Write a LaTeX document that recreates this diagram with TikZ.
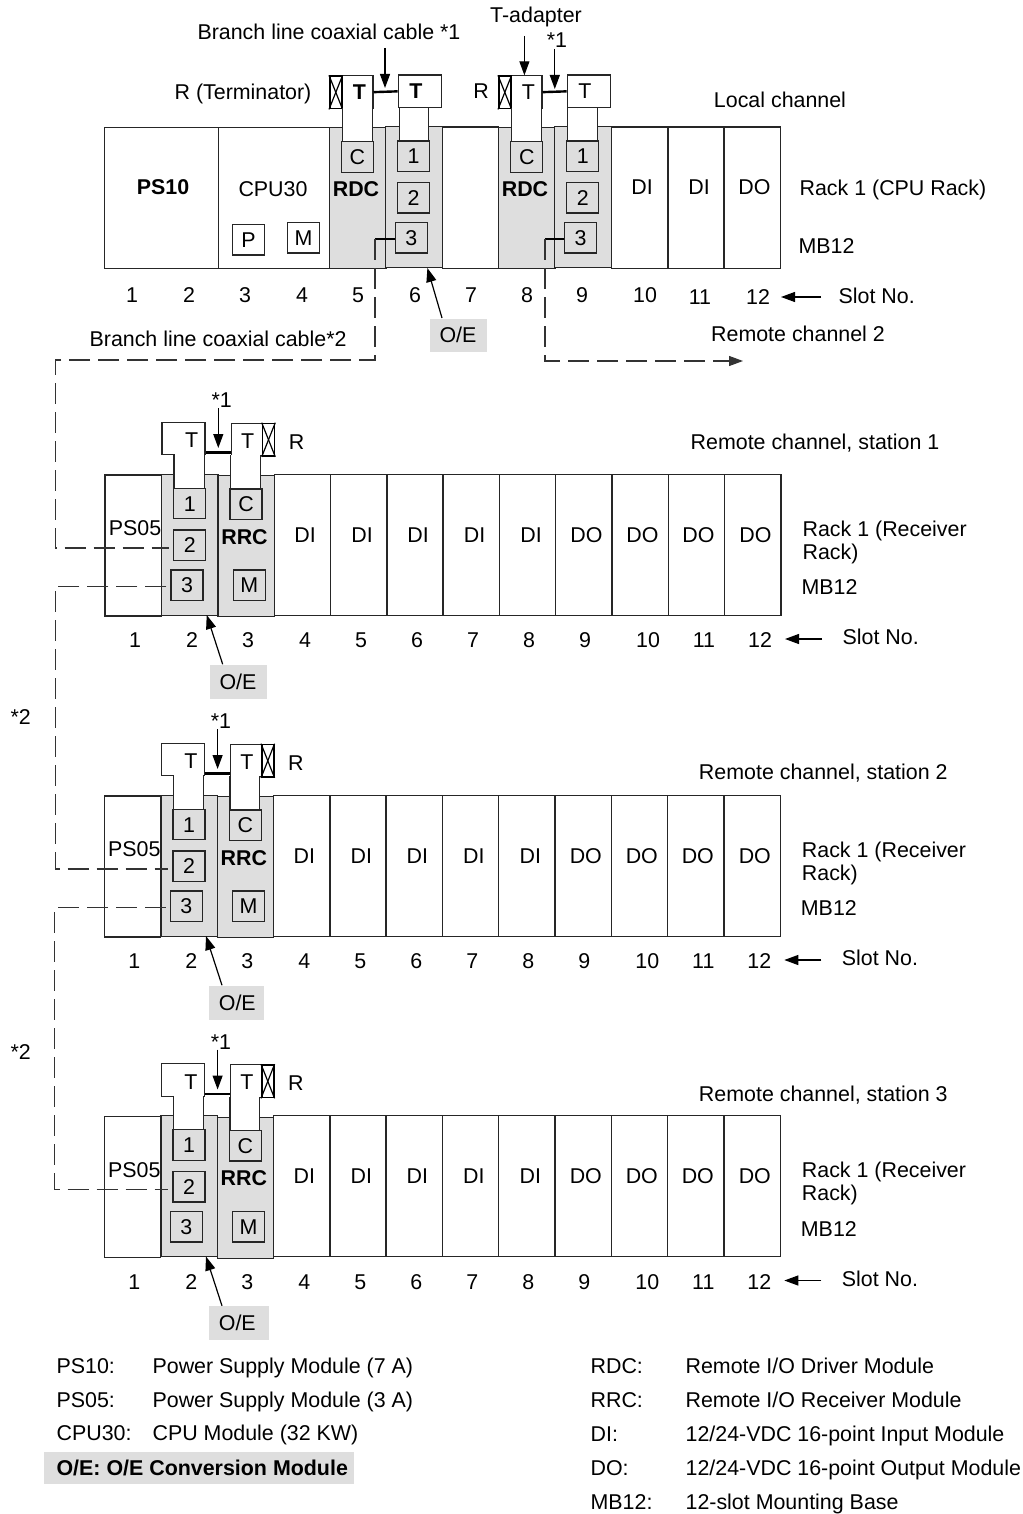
\documentclass[tikz,border=0pt]{standalone}
\usepackage{fontspec}
\setmainfont{Liberation Sans}
\usetikzlibrary{arrows.meta}

\begin{document}
\begin{tikzpicture}[x=1pt, y=-1pt, line width=1.2pt,
    lab/.style={inner sep=0pt, text height=15pt, text depth=0pt, font=\fontsize{21.4}{24}\selectfont},
    labb/.style={lab, font=\fontsize{21.4}{24}\selectfont\bfseries},
    labw/.style={lab, anchor=west},
    modbox/.style={draw=black!85, anchor=north west, inner sep=0pt, minimum width=56.3pt, minimum height=141pt},
    graymod/.style={modbox, fill=black!13},
    sqbox/.style={lab, draw=black!85, minimum width=32pt, minimum height=30.5pt},
    graysq/.style={sqbox, fill=black!13},
    tbox/.style={draw=black!85, fill=white, anchor=north west, inner sep=0pt, minimum height=32.5pt},
    rbox/.style={draw=black, line width=1.6pt, fill=white, anchor=north west, inner sep=0pt, minimum width=12pt, minimum height=32.5pt},
    stem/.style={draw=black!85, fill=white},
    coax/.style={line width=2.4pt},
    cable/.style={draw=black!80, dash pattern=on 21pt off 8pt},
    tip/.style={-{Triangle[length=14pt, width=10pt]}},
    oebox/.style={fill=black!13, anchor=north west, inner sep=0pt, minimum height=34pt}]
  \useasboundingbox (0,0) rectangle (1022,1514);

  \node[lab] (btop) at (329,32) {Branch line coaxial cable *1};
  \node[lab] (tadapter) at (536,15) {T-adapter};
  \node[lab] (startop) at (557,40) {*1};
  \node[lab] (rterm) at (243,92) {R (Terminator)};
  \node[lab] (rtop) at (481,91) {R};
  \node[lab] (localch) at (780,100) {Local channel};

  \node[modbox, minimum width=114.3pt] (ps10) at (103.5,127) {};
  \node[modbox, minimum width=111.2pt] (cpu30) at (217.8,127) {};
  \node[graymod] (rdca) at (329,127) {};
  \node[graymod, minimum width=56.6pt] (oea) at (385,126) {};
  \node[modbox] (slot7) at (441.6,126.5) {};
  \node[graymod] (rdcb) at (498,127) {};
  \node[graymod, minimum width=57pt] (oeb) at (554,126) {};
  \foreach \i/\x in {10/611, 11/667, 12/723.5}
    \node[modbox] (slot\i) at (\x,126.5) {};

  \node[tbox, minimum width=43.3pt] (ta) at (329,75.3) {};
  \node[tbox, minimum width=43.4pt] (tb) at (397.6,74.5) {};
  \node[tbox, minimum width=43.3pt] (tc) at (498,75.3) {};
  \node[tbox, minimum width=43.3pt] (td) at (566.7,74.5) {};
  \node[rbox] (ra) at (329,75.3) {};
  \node[rbox] (rb) at (498,75.3) {};
  \foreach \t in {ra, rb} {
    \draw (\t.north west) -- (\t.south east);
    \draw (\t.south west) -- (\t.north east);
  }
  \draw[stem] (342.5,107.8) -- (342.5,142) -- (372.3,142) -- (372.3,107.8);
  \draw[stem] (399.3,107.8) -- (399.3,142) -- (428.7,142) -- (428.7,107.8);
  \draw[stem] (511.6,107.8) -- (511.6,142) -- (541.3,142) -- (541.3,107.8);
  \draw[stem] (567.7,107.8) -- (567.7,142) -- (597.8,142) -- (597.8,107.8);
  \draw[coax] (ta.east) -- (tb.west);
  \draw[coax] (tc.east) -- (td.west);
  \node[labb] (tta) at (359.5,92) {T};
  \node[labb] (ttb) at (416,91.5) {T};
  \node[lab] (ttc) at (528.5,92) {T};
  \node[lab] (ttd) at (585,91.5) {T};

  \node[graysq] (ca) at (357.3,157) {C};
  \node[graysq] (onea) at (413.5,156.3) {1};
  \node[graysq] (twoa) at (413.5,197.8) {2};
  \node[graysq] (threea) at (411.2,237.8) {3};
  \node[sqbox] (pcpu) at (248.5,239.8) {P};
  \node[sqbox] (mcpu) at (303.5,237.8) {M};
  \node[graysq] (cb) at (526.8,157) {C};
  \node[graysq] (oneb) at (582.7,156.3) {1};
  \node[graysq] (twob) at (582.7,197.8) {2};
  \node[graysq] (threeb) at (580.5,237.8) {3};

  \node[labb] (ps10t) at (163,187) {PS10};
  \node[lab] (cpu30t) at (273,189) {CPU30};
  \node[labb] (rdcat) at (356,189.5) {RDC};
  \node[labb] (rdcbt) at (525,189.5) {RDC};
  \foreach \i/\x/\s in {a/642/DI, b/699/DI, c/754.5/DO}
    \node[lab] (top\i) at (\x,187) {\s};
  \node[labw] (racktop) at (799,188) {Rack 1 (CPU Rack)};
  \node[labw] (mbtop) at (798,246) {MB12};
  \foreach \n/\x/\y in {1/132/295, 2/189/295, 3/245/295, 4/302/295, 5/358/295, 6/415/295, 7/471/295, 8/527/295, 9/582/295, 10/645/295, 11/700/297, 12/758/297}
    \node[lab] (top\n) at (\x,\y) {\n};
  \node[labw] (slotnotop) at (838,296) {Slot No.};
  \node[labw] (bcable) at (89,339) {Branch line coaxial cable*2};
  \node[lab] (remtwo) at (798,334) {Remote channel 2};
  \node[oebox, minimum width=57pt, minimum height=33pt] (oetopb) at (429.4,318) {};
  \node[lab] (oetop) at (458,335) {O/E};

  \coordinate (coaxin) at (385,48);
  \coordinate (coaxend) at (385,88);
  \coordinate (adapterin) at (524.4,36);
  \coordinate (starin) at (554.8,49);
  \coordinate (starend) at (554.8,89);
  \coordinate (slotin) at (821,297);
  \coordinate (slotend) at (781,297);
  \coordinate (oetip) at (427.4,268);
  \draw[tip] (coaxin) -- (coaxend);
  \draw[tip] (adapterin) -- (adapterin |- tc.north);
  \draw[tip] (starin) -- (starend);
  \draw[tip] (slotin) -- (slotend);
  \draw[tip] (oetopb.north west) ++(12.6,0) -- (oetip);

  \coordinate (dropa) at (375,239);
  \coordinate (dropb) at (375,360);
  \coordinate (benda) at (55.3,360);
  \coordinate (bendb) at (55.3,586.3);
  \coordinate (bendc) at (54.8,907.3);
  \coordinate (dropc) at (545,239);
  \coordinate (dropd) at (545,361);
  \coordinate (remend) at (743,361);
  \draw (threea.west |- dropa) -- (dropa);
  \draw (threeb.west |- dropc) -- (dropc);
  \draw[cable, tip] (dropc) -- (dropd) -- (remend);

  \foreach \r/\dx/\dy/\sx/\sy/\st/\oew in {i/0/0/815/442/1/57, j/-0.7/321/824/451/2/55, k/-0.7/641.5/824/452.5/3/60} {
    \begin{scope}[shift={(\dx,\dy)}]
      \node[modbox] (ps\r) at (104.3,474.3) {};
      \node[graymod] (oe\r) at (161,473.7) {};
      \node[graymod] (rrc\r) at (217.3,475) {};
      \foreach \i/\x in {4/273.5, 5/330, 6/386, 7/442.3, 8/498.7, 9/555, 10/611.3, 11/667.7, 12/724}
        \node[modbox] (slot\r\i) at (\x,473.7) {};

      \node[tbox, minimum width=43pt] (tl\r) at (161.3,421.7) {};
      \node[tbox, minimum width=31pt] (tr\r) at (230.7,422.7) {};
      \node[rbox] (rr\r) at (261.7,422.7) {};
      \draw (rr\r.north west) -- (rr\r.south east);
      \draw (rr\r.south west) -- (rr\r.north east);
      \draw[stem] (174,454.3) -- (174,489) -- (204.3,489) -- (204.3,454.3);
      \draw[stem] (230.7,455.2) -- (230.7,490) -- (260.3,490) -- (260.3,455.2);
      \draw[coax] ([yshift=3pt]tl\r.south east) -- ([yshift=4pt]tr\r.south west);
      \node[lab] (ttl\r) at (191.7,440) {T};
      \node[lab] (ttr\r) at (247.7,440.5) {T};

      \node[graysq] (one\r) at (189.7,503.5) {1};
      \node[graysq] (two\r) at (189.7,545.3) {2};
      \node[graysq] (three\r) at (187,585.3) {3};
      \node[graysq] (cc\r) at (246,504.3) {C};
      \node[graysq] (mm\r) at (249.3,585.3) {M};
      \node[lab] (pst\r) at (135,528) {PS05};
      \node[labb] (rrct\r) at (244.5,536.5) {RRC};
      \foreach \i/\x/\s in {4/305/DI, 5/362/DI, 6/418/DI, 7/474.5/DI, 8/531/DI, 9/586.5/DO, 10/642.5/DO, 11/698.5/DO, 12/755.5/DO}
        \node[lab] (mod\r\i) at (\x,534.5) {\s};
      \foreach \n/\x in {1/135, 2/192, 3/248, 4/305, 5/361, 6/417, 7/473, 8/529, 9/585, 10/648, 11/704, 12/760}
        \node[lab] (num\r\n) at (\x,640) {\n};

      \node[lab] (star\r) at (221.7,400) {*1};
      \node[lab] (rt\r) at (296.5,441.5) {R};
      \node[lab] (stat\r) at (\sx,\sy) {Remote channel, station \st};
      \node[anchor=north west, align=left, inner sep=0pt, font=\fontsize{21.4}{23}\selectfont] (rack\r) at (802,520) {Rack 1 (Receiver\\Rack)};
      \node[labw] (mb\r) at (801,587) {MB12};
      \node[labw] (slotno\r) at (842,637) {Slot No.};
      \node[oebox, minimum width=\oew pt] (oeb\r) at (209.2,664.3) {};
      \node[lab] (oet\r) at (238,681.5) {O/E};

      \coordinate (arrin\r) at (218.3,408);
      \coordinate (arrend\r) at (218.3,448);
      \coordinate (numin\r) at (822,639);
      \coordinate (numend\r) at (785,639);
      \coordinate (oein\r) at (222.7,664.3);
      \coordinate (oeend\r) at (206.7,615);
      \draw[tip] (arrin\r) -- (arrend\r);
      \draw[tip] (numin\r) -- (numend\r);
      \draw[tip] (oein\r) -- (oeend\r);
    \end{scope}
  }

  \draw[cable, shorten >=4pt] (dropa) -- (dropb) -- (benda) |- ([yshift=-2.7pt]twoi.west);
  \draw[cable, shorten <=4pt, shorten >=4pt] ([yshift=-1pt]threei.west) -- (bendb) |- ([yshift=-2.7pt]twoj.west);
  \draw[cable, shorten <=4pt, shorten >=4pt] ([yshift=-1pt]threej.west) -- (bendc) |- ([yshift=-2.7pt]twok.west);

  \node[labw] (starj) at (10,717) {*2};
  \node[labw] (stark) at (10,1052) {*2};

  \node[oebox, minimum width=310pt, minimum height=31.5pt] (oelegbox) at (43,1451.7) {};
  \foreach \i/\a/\b/\y in {a/PS10:/Power Supply Module (7 A)/1366, b/PS05:/Power Supply Module (3 A)/1399.5, c/CPU30:/CPU Module (32 KW)/1433} {
    \node[labw] (lega\i) at (56,\y) {\a};
    \node[labw] (legb\i) at (152,\y) {\b};
  }
  \node[labb, anchor=west] (oeleg) at (56,1467.5) {O/E: O/E Conversion Module};
  \foreach \i/\a/\b/\y in {a/RDC:/{Remote I/O Driver Module}/1366, b/RRC:/{Remote I/O Receiver Module}/1400, c/DI:/{12/24-VDC 16-point Input Module}/1434, d/DO:/{12/24-VDC 16-point Output Module}/1468, e/MB12:/12-slot Mounting Base/1502} {
    \node[labw] (legc\i) at (590,\y) {\a};
    \node[labw] (legd\i) at (685,\y) {\b};
  }
\end{tikzpicture}
\end{document}
